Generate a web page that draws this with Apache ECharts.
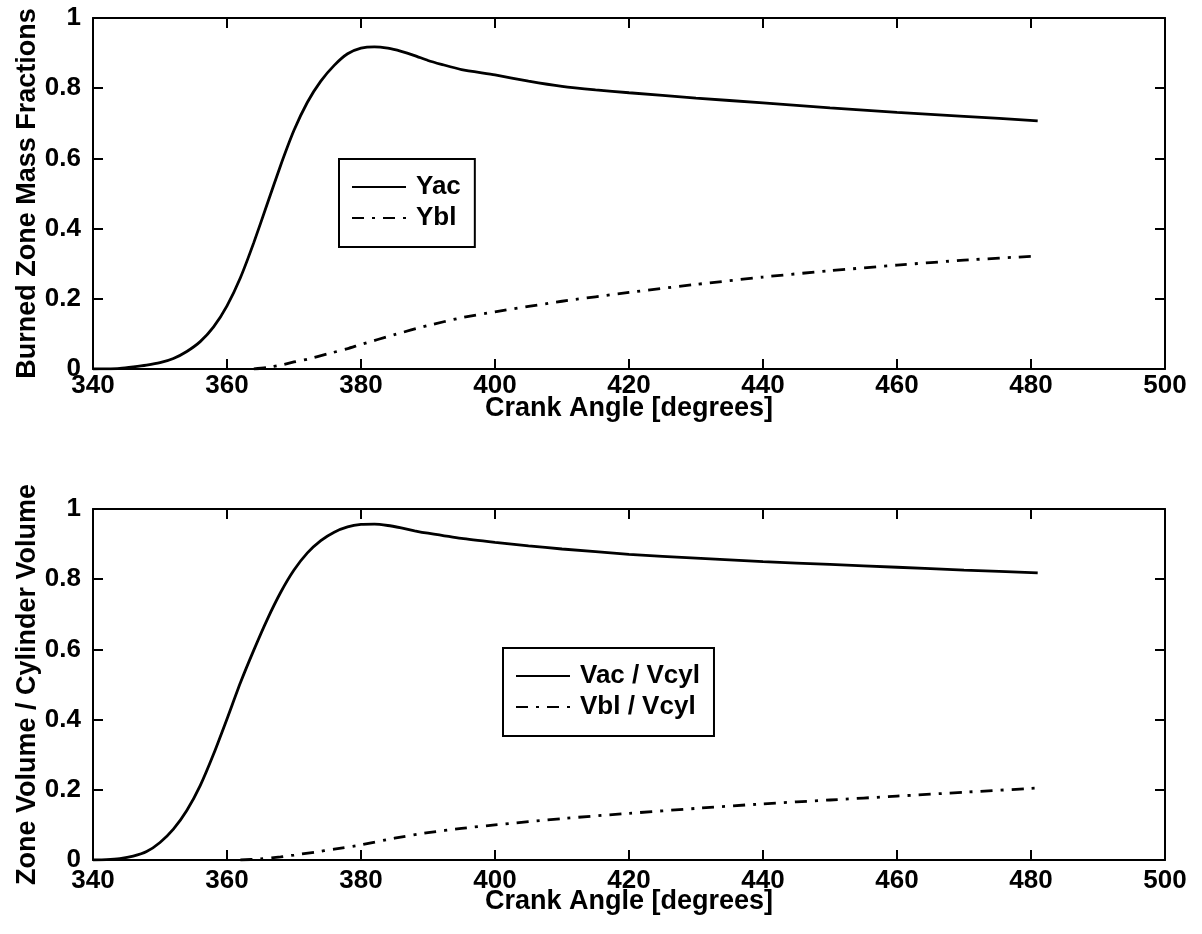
<!DOCTYPE html>
<html>
<head>
<meta charset="utf-8">
<script src="https://cdn.jsdelivr.net/npm/echarts@6/dist/echarts.min.js"></script>
<style>
html,body{margin:0;padding:0;background:#fff;}
#chart{width:1202px;height:934px;}
</style>
</head>
<body>
<div id="chart"></div>
<script>
// ---- data ----
var xTicks = [340, 360, 380, 400, 420, 440, 460, 480, 500];
var yTicks = [0, 0.2, 0.4, 0.6, 0.8, 1];

// Top panel: burned zone mass fractions
var yacAngle = [340,342,344,346,348,350,352,354,356,358,360,362,364,366,368,370,372,374,376,378,380,382,384,386,388,390,392,395,400,405,410,415,420,430,440,450,460,470,481];
var yacValue = [0,0.0005,0.002,0.006,0.011,0.018,0.03,0.05,0.078,0.12,0.18,0.26,0.36,0.47,0.58,0.68,0.76,0.82,0.865,0.898,0.914,0.918,0.914,0.905,0.893,0.879,0.868,0.853,0.838,0.82,0.805,0.795,0.787,0.772,0.758,0.744,0.731,0.72,0.707];
var yblAngle = [364,366,368,370,372,375,378,380,385,390,395,400,410,420,430,440,450,460,470,481];
var yblValue = [0,0.004,0.011,0.02,0.028,0.043,0.058,0.07,0.098,0.124,0.146,0.163,0.193,0.218,0.241,0.262,0.28,0.296,0.31,0.322];

// Bottom panel: zone volume / cylinder volume
var vacAngle = [340,342,344,346,348,350,352,354,356,358,360,362,364,366,368,370,372,374,376,378,380,382,384,386,388,390,395,400,405,410,420,430,440,450,460,470,481];
var vacValue = [0,0.001,0.004,0.011,0.024,0.05,0.088,0.141,0.212,0.302,0.402,0.505,0.598,0.685,0.762,0.826,0.875,0.91,0.934,0.949,0.956,0.957,0.953,0.946,0.938,0.931,0.916,0.905,0.895,0.886,0.871,0.86,0.85,0.842,0.834,0.826,0.818];
var vblAngle = [362,365,368,370,373,376,380,385,390,395,400,410,420,430,440,450,460,470,481];
var vblValue = [0,0.003,0.009,0.014,0.022,0.031,0.043,0.062,0.078,0.09,0.1,0.118,0.133,0.147,0.16,0.171,0.182,0.193,0.205];

var xName = 'Crank Angle [degrees]';
var yNameTop = 'Burned Zone Mass Fractions';
var yNameBottom = 'Zone Volume / Cylinder Volume';
var legendTop = ['Yac', 'Ybl'];
var legendBottom = ['Vac / Vcyl', 'Vbl / Vcyl'];

// ---- helpers ----
function pairs(xs, ys) { return xs.map(function (x, i) { return [x, ys[i]]; }); }
var FONT = '"Liberation Sans", Arial, Helvetica, sans-serif';
var DASHDOT = [12, 8, 3, 8];

function xAxisDef(grid, pos, main, gap, labelMargin) {
  return {
    type: 'value', gridIndex: grid, position: pos,
    min: xTicks[0], max: xTicks[xTicks.length - 1], interval: xTicks[1] - xTicks[0],
    name: main ? xName : '', nameLocation: 'middle', nameGap: gap || 0, nameMoveOverlap: false,
    nameTextStyle: { fontFamily: FONT, fontSize: 27, fontWeight: 'bold', color: '#000', verticalAlign: 'top' },
    axisLine: { show: true, onZero: false, lineStyle: { color: '#000', width: 2 } },
    axisTick: { show: true, inside: true, length: 10, lineStyle: { color: '#000', width: 2 } },
    axisLabel: { show: main, margin: labelMargin || 4, fontFamily: FONT, fontSize: 26, fontWeight: 'bold', color: '#000' },
    splitLine: { show: false }
  };
}
function yAxisDef(grid, pos, main, name) {
  return {
    type: 'value', gridIndex: grid, position: pos,
    min: yTicks[0], max: yTicks[yTicks.length - 1], interval: yTicks[1] - yTicks[0],
    name: main ? name : '', nameLocation: 'middle', nameGap: 52, nameMoveOverlap: false,
    nameTextStyle: { fontFamily: FONT, fontSize: 27, fontWeight: 'bold', color: '#000' },
    axisLine: { show: true, onZero: false, lineStyle: { color: '#000', width: 2 } },
    axisTick: { show: true, inside: true, length: 10, lineStyle: { color: '#000', width: 2 } },
    axisLabel: { show: main, margin: 12, fontFamily: FONT, fontSize: 26, fontWeight: 'bold', color: '#000' },
    splitLine: { show: false }
  };
}
function lineSeries(name, data, xi, yi, dashed) {
  return {
    type: 'line', name: name, data: data, xAxisIndex: xi, yAxisIndex: yi,
    symbol: 'none', showSymbol: false, smooth: 0.2, animation: false,
    lineStyle: { color: '#000', width: 2.8, type: dashed ? DASHDOT : 'solid' },
    itemStyle: { color: '#000' }
  };
}
function legendDef(names, left, top) {
  return {
    data: names, orient: 'vertical', left: left, top: top,
    itemWidth: 54, itemHeight: 14, itemGap: 5,
    padding: [15, 14, 16, 12],
    borderColor: '#000', borderWidth: 2, backgroundColor: '#fff',
    itemStyle: { opacity: 0 },
    textStyle: { fontFamily: FONT, fontSize: 26, fontWeight: 'bold', color: '#000', padding: [0, 0, 0, 5] },
    selectedMode: false
  };
}

var chart = echarts.init(document.getElementById('chart'), null, { renderer: 'canvas' });
chart.setOption({
  animation: false,
  backgroundColor: '#fff',
  grid: [
    { left: 93, top: 18, width: 1072, height: 351 },
    { left: 93, top: 509, width: 1072, height: 351 }
  ],
  xAxis: [
    xAxisDef(0, 'bottom', true, 26, 4), xAxisDef(0, 'top', false),
    xAxisDef(1, 'bottom', true, 28, 8), xAxisDef(1, 'top', false)
  ],
  yAxis: [
    yAxisDef(0, 'left', true, yNameTop), yAxisDef(0, 'right', false, ''),
    yAxisDef(1, 'left', true, yNameBottom), yAxisDef(1, 'right', false, '')
  ],
  legend: [
    legendDef(legendTop, 339, 159),
    legendDef(legendBottom, 503, 648)
  ],
  series: [
    lineSeries(legendTop[0], pairs(yacAngle, yacValue), 0, 0, false),
    lineSeries(legendTop[1], pairs(yblAngle, yblValue), 0, 0, true),
    lineSeries(legendBottom[0], pairs(vacAngle, vacValue), 2, 2, false),
    lineSeries(legendBottom[1], pairs(vblAngle, vblValue), 2, 2, true)
  ]
});
</script>
</body>
</html>
